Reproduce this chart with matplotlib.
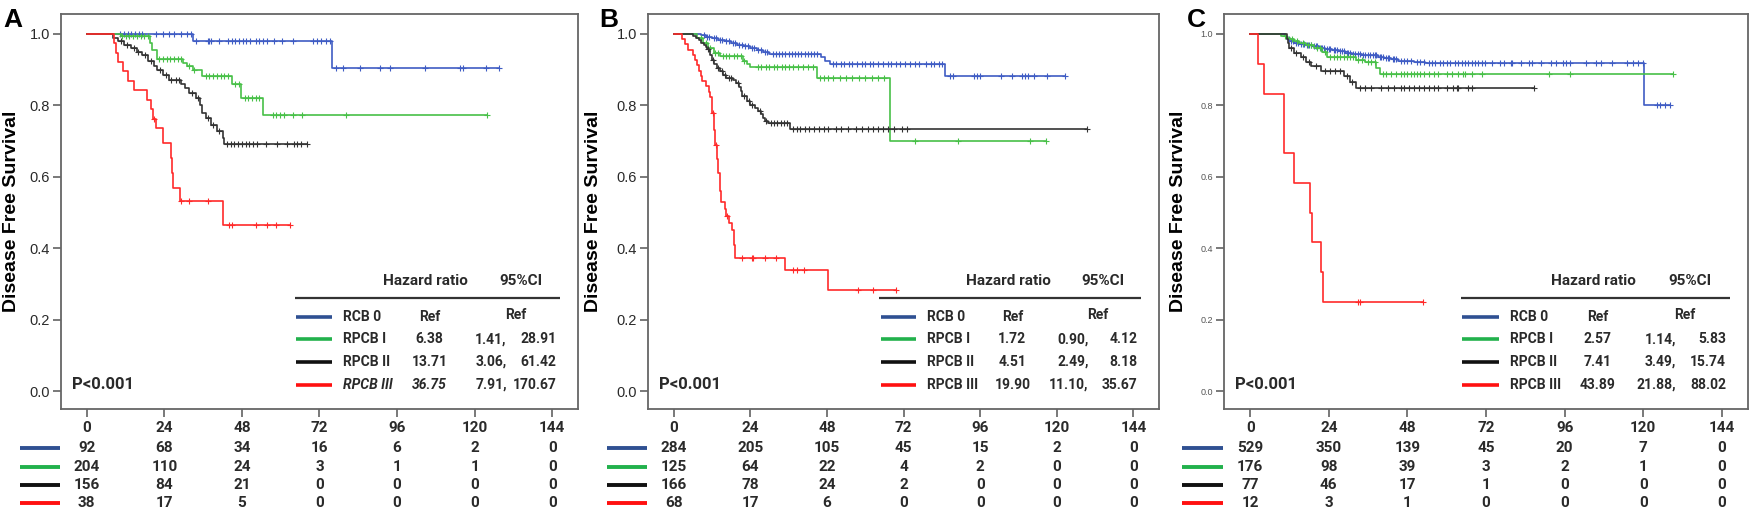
import numpy as np
import matplotlib
matplotlib.use("Agg")
import matplotlib.pyplot as plt

plt.rcParams['font.family'] = ['Roboto', 'DejaVu Sans']

# ---------------- data ----------------
groups = ['RCB 0', 'RPCB I', 'RPCB II', 'RPCB III']
xticks = [0, 24, 48, 72, 96, 120, 144]

# panel A : event times / survival after event / censor times
a_rcb0_t = [32.8, 75.9]
a_rcb0_s = [0.981, 0.906]
a_rcb0_c = [10.3, 11.5, 12.6, 13.8, 14.9, 16.1, 17.2, 21.3, 23.6, 25.3, 27.0, 29.3, 31.0, 32.2,
            33.9, 37.4, 37.9, 38.5, 40.8, 43.7, 44.8, 46.0, 47.1, 48.3, 49.4, 50.6, 52.3, 53.4,
            54.6, 55.7, 58.0, 60.3, 63.8, 70.1, 71.3, 72.4, 74.1, 75.3, 77.0, 79.3, 84.5, 90.8,
            93.7, 104.6, 115.5, 116.4, 123.6, 127.6]
a_r1_t = [10.5, 19.5, 20.3, 21.8, 29.7, 31.0, 32.8, 35.6, 44.8, 47.7, 54.6]
a_r1_s = [0.995, 0.975, 0.955, 0.931, 0.92, 0.91, 0.90, 0.883, 0.86, 0.822, 0.773]
a_r1_c = [10.9, 12.1, 13.2, 14.4, 15.5, 16.7, 17.8, 19.0, 22.4, 23.6, 24.7, 25.9, 27.0, 28.2,
          29.1, 31.6, 33.3, 36.8, 37.9, 39.1, 40.2, 41.4, 42.5, 43.7, 46.0, 47.1, 48.9, 50.0,
          51.1, 52.3, 53.4, 57.5, 58.6, 59.8, 60.9, 63.8, 66.7, 80.1, 123.9]
a_r2_t = [8.0, 9.8, 11.5, 13.8, 15.5, 17.2, 19.0, 20.7, 21.8, 23.6, 25.3, 29.3, 30.5, 31.6,
          33.9, 35.1, 35.6, 36.8, 38.5, 40.2, 42.0, 42.5]
a_r2_s = [0.99, 0.98, 0.97, 0.96, 0.95, 0.94, 0.925, 0.91, 0.90, 0.885, 0.87, 0.86, 0.85, 0.835,
          0.82, 0.80, 0.78, 0.765, 0.745, 0.728, 0.71, 0.693]
a_r2_c = [10.5, 12.5, 14.5, 16.0, 18.0, 20.0, 22.5, 24.5, 26.0, 27.5, 28.5, 32.5, 34.5, 37.5,
          39.0, 41.0, 43.5, 44.6, 45.7, 46.9, 48.0, 49.2, 50.3, 51.5, 52.6, 55.5, 58.9, 61.8,
          64.1, 65.2, 66.4, 68.2]
a_r3_t = [8.5, 9.0, 9.7, 11.2, 12.6, 14.6, 18.5, 20.0, 20.6, 21.5, 23.6, 26.2, 26.5, 26.7, 28.8, 42.0]
a_r3_s = [0.974, 0.947, 0.921, 0.895, 0.868, 0.842, 0.815, 0.789, 0.763, 0.737, 0.695, 0.653,
          0.611, 0.569, 0.531, 0.466]
a_r3_c = [20.8, 29.3, 31.6, 37.4, 43.9, 44.8, 52.3, 55.7, 58.6, 63.0]

# panel B
b_rcb0_t = [8.6, 10.0, 12.0, 14.0, 16.0, 18.0, 20.0, 22.0, 24.0, 26.0, 28.0, 30.0, 46.2, 47.5, 49.1, 85.0]
b_rcb0_s = [0.996, 0.992, 0.988, 0.984, 0.98, 0.975, 0.97, 0.965, 0.96, 0.955, 0.95, 0.944,
            0.935, 0.925, 0.916, 0.883]
b_rcb0_c = [9.5, 10.5, 11.2, 12.5, 13.3, 14.5, 15.2, 16.5, 17.3, 18.5, 19.3, 20.5, 21.3, 22.5,
            23.3, 24.5, 25.3, 26.5, 27.3, 28.5, 29.3, 31.0, 32.0, 33.0, 34.0, 35.0, 36.0, 37.0,
            38.0, 39.0, 40.0, 41.0, 42.0, 43.0, 44.0, 45.0, 50.0, 51.0, 52.5, 53.5, 55.0, 56.0,
            57.5, 59.0, 60.0, 61.5, 62.5, 64.0, 65.5, 67.0, 68.0, 69.5, 71.0, 72.5, 74.0, 75.5,
            77.0, 79.0, 80.5, 81.5, 83.0, 84.0, 86.5, 87.5, 94.0, 95.0, 96.0, 102.5, 106.0,
            109.0, 110.0, 111.0, 113.0, 117.0, 122.6]
b_r1_t = [7.4, 9.2, 10.9, 12.7, 14.5, 21.8, 23.0, 24.0, 45.0, 67.9]
b_r1_s = [0.99, 0.975, 0.96, 0.948, 0.939, 0.925, 0.915, 0.908, 0.876, 0.70]
b_r1_c = [8.5, 10.0, 11.5, 13.0, 14.0, 15.5, 16.5, 17.5, 19.0, 20.0, 21.0, 22.0, 26.5, 27.5,
          29.0, 30.0, 31.5, 32.5, 34.0, 35.0, 36.0, 37.5, 39.0, 40.5, 42.0, 43.5, 46.0, 47.0,
          48.5, 50.0, 52.0, 54.0, 56.0, 58.0, 60.0, 62.0, 64.0, 66.0, 75.5, 89.0, 111.5, 116.5]
b_r2_t = [6.2, 7.0, 7.8, 8.6, 9.4, 10.0, 10.6, 11.1, 11.5, 12.1, 12.7, 13.5, 14.5, 15.5, 16.5,
          18.5, 19.5, 20.5, 21.0, 21.5, 23.0, 24.0, 25.5, 26.5, 27.3, 28.0, 28.6, 29.5, 36.6]
b_r2_s = [0.994, 0.988, 0.982, 0.976, 0.97, 0.964, 0.958, 0.952, 0.94, 0.928, 0.916, 0.906,
          0.896, 0.886, 0.878, 0.871, 0.864, 0.852, 0.84, 0.827, 0.813, 0.801, 0.794, 0.785,
          0.775, 0.765, 0.757, 0.752, 0.733]
b_r2_c = [10.8, 12.4, 13.8, 15.2, 16.0, 17.5, 18.0, 20.2, 22.0, 23.5, 24.5, 27.0, 29.0, 30.5,
          31.5, 32.5, 33.5, 34.5, 35.5, 37.5, 38.5, 39.5, 41.0, 42.5, 44.0, 45.5, 47.0, 48.5,
          51.0, 52.5, 54.5, 57.0, 59.0, 61.0, 62.5, 64.0, 65.5, 67.0, 69.0, 71.5, 73.0, 129.6]
b_r3_t = [2.7, 3.5, 4.5, 6.0, 6.8, 7.2, 8.0, 8.5, 8.8, 10.3, 11.0, 11.5, 12.0, 12.5, 13.0, 13.5,
          14.0, 14.5, 15.0, 16.0, 16.5, 17.5, 18.3, 18.8, 19.3, 35.0, 48.2]
b_r3_s = [0.985, 0.971, 0.956, 0.941, 0.926, 0.912, 0.897, 0.882, 0.868, 0.853, 0.838, 0.824,
          0.78, 0.73, 0.69, 0.65, 0.61, 0.56, 0.53, 0.51, 0.49, 0.47, 0.45, 0.41, 0.373, 0.34, 0.282]
b_r3_c = [12.3, 13.2, 16.8, 21.5, 24.4, 25.0, 28.6, 32.1, 37.4, 38.5, 40.9, 57.9, 62.6, 69.7]

# panel C
c_rcb0_t = [10.5, 11.0, 11.5, 12.0, 13.5, 15.0, 17.0, 19.0, 21.0, 23.0, 25.0, 27.0, 29.0, 31.0,
            34.0, 37.0, 39.0, 41.0, 43.0, 45.0, 50.0, 53.5, 120.3]
c_rcb0_s = [0.995, 0.99, 0.985, 0.98, 0.976, 0.972, 0.968, 0.965, 0.962, 0.958, 0.955, 0.951,
            0.948, 0.945, 0.942, 0.94, 0.936, 0.932, 0.929, 0.925, 0.922, 0.919, 0.802]
c_rcb0_c = [11.8, 12.5, 13.0, 14.0, 14.5, 15.5, 16.0, 16.5, 17.5, 18.0, 18.5, 19.5, 20.0, 20.5,
            21.5, 22.0, 22.5, 23.5, 24.0, 24.5, 25.5, 26.0, 26.5, 27.5, 28.0, 28.5, 29.5, 30.0,
            30.5, 31.5, 32.0, 33.0, 33.5, 34.5, 35.0, 36.0, 36.5, 37.5, 38.0, 38.5, 39.5, 40.0,
            40.5, 41.5, 42.0, 42.5, 43.5, 44.0, 44.5, 46.0, 47.0, 48.0, 49.0, 51.0, 52.0, 53.0,
            54.5, 55.5, 56.5, 58.0, 59.0, 60.0, 61.0, 62.5, 63.6, 64.6, 65.6, 66.6, 67.7, 68.7,
            69.7, 70.8, 71.8, 73.8, 76.4, 77.4, 79.5, 80.0, 82.6, 85.1, 86.2, 88.7, 91.8, 93.4,
            95.4, 96.4, 97.5, 102.6, 105.7, 107.2, 110.6, 114.9, 117.0, 118.5, 120.0, 124.1,
            125.1, 126.7, 128.2]
c_r1_t = [9.4, 11.0, 12.2, 13.5, 15.0, 17.0, 19.6, 22.0, 23.6, 32.2, 35.0, 38.5, 39.6]
c_r1_s = [0.995, 0.99, 0.985, 0.98, 0.975, 0.97, 0.96, 0.95, 0.936, 0.927, 0.922, 0.905, 0.889]
c_r1_c = [10.5, 12.8, 14.2, 16.0, 17.8, 18.5, 20.5, 21.2, 23.0, 24.5, 25.5, 26.5, 27.5, 28.5,
          29.5, 30.5, 31.5, 33.0, 34.0, 36.0, 37.0, 38.0, 40.5, 41.5, 43.0, 44.5, 46.0, 47.0,
          48.0, 49.0, 50.0, 51.0, 52.0, 53.0, 54.5, 56.0, 57.5, 60.0, 61.5, 63.6, 65.1, 65.6,
          67.7, 70.8, 91.3, 97.5, 129.2]
c_r2_t = [11.4, 11.6, 11.8, 13.5, 15.5, 17.0, 18.5, 21.5, 28.8, 30.5, 32.2]
c_r2_s = [0.987, 0.974, 0.961, 0.948, 0.935, 0.922, 0.909, 0.896, 0.882, 0.866, 0.849]
c_r2_c = [12.5, 14.0, 16.0, 18.0, 20.0, 23.0, 24.5, 26.0, 27.5, 29.5, 31.0, 33.5, 35.0, 37.0,
          40.0, 42.0, 44.0, 46.0, 47.0, 48.5, 50.0, 51.5, 53.0, 54.5, 56.0, 57.5, 60.0, 62.0,
          63.0, 63.6, 66.6, 67.7, 86.7]
c_r3_t = [2.3, 4.2, 10.3, 10.4, 13.4, 18.3, 18.8, 21.7, 22.1]
c_r3_s = [0.917, 0.833, 0.75, 0.667, 0.583, 0.50, 0.417, 0.333, 0.25]
c_r3_c = [32.8, 33.4, 52.7]

# numbers at risk
a_risk = [[92, 68, 34, 16, 6, 2, 0], [204, 110, 24, 3, 1, 1, 0],
          [156, 84, 21, 0, 0, 0, 0], [38, 17, 5, 0, 0, 0, 0]]
b_risk = [[284, 205, 105, 45, 15, 2, 0], [125, 64, 22, 4, 2, 0, 0],
          [166, 78, 24, 2, 0, 0, 0], [68, 17, 6, 0, 0, 0, 0]]
c_risk = [[529, 350, 139, 45, 20, 7, 0], [176, 98, 39, 3, 2, 1, 0],
          [77, 46, 17, 1, 0, 0, 0], [12, 3, 1, 0, 0, 0, 0]]

# hazard ratios and 95% CI
a_hr = ['Ref', '6.38', '13.71', '36.75']
a_lo = ['', '1.41,', '3.06,', '7.91,']
a_hi = ['', '28.91', '61.42', '170.67']
b_hr = ['Ref', '1.72', '4.51', '19.90']
b_lo = ['', '0.90,', '2.49,', '11.10,']
b_hi = ['', '4.12', '8.18', '35.67']
c_hr = ['Ref', '2.57', '7.41', '43.89']
c_lo = ['', '1.14,', '3.49,', '21.88,']
c_hi = ['', '5.83', '15.74', '88.02']

curve_cols = ['#3f5cc4', '#48c048', '#333333', '#ff2a2a']
key_cols = ['#2f5092', '#22b14c', '#111111', '#ff1010']
txt = '#2a2a2a'

panels = [
    dict(letter='A', pos=[0.0348, 0.1965, 0.2953, 0.776], lx=0.002, yl=0.0068,
         curves=[(a_rcb0_t, a_rcb0_s, a_rcb0_c), (a_r1_t, a_r1_s, a_r1_c),
                 (a_r2_t, a_r2_s, a_r2_c), (a_r3_t, a_r3_s, a_r3_c)],
         risk=a_risk, hr=a_hr, lo=a_lo, hi=a_hi, italic_last=True, small_y=False),
    dict(letter='B', pos=[0.3701, 0.1965, 0.2918, 0.776], lx=0.342, yl=0.3392,
         curves=[(b_rcb0_t, b_rcb0_s, b_rcb0_c), (b_r1_t, b_r1_s, b_r1_c),
                 (b_r2_t, b_r2_s, b_r2_c), (b_r3_t, b_r3_s, b_r3_c)],
         risk=b_risk, hr=b_hr, lo=b_lo, hi=b_hi, italic_last=False, small_y=False),
    dict(letter='C', pos=[0.6990, 0.1965, 0.2993, 0.776], lx=0.678, yl=0.6728,
         curves=[(c_rcb0_t, c_rcb0_s, c_rcb0_c), (c_r1_t, c_r1_s, c_r1_c),
                 (c_r2_t, c_r2_s, c_r2_c), (c_r3_t, c_r3_s, c_r3_c)],
         risk=c_risk, hr=c_hr, lo=c_lo, hi=c_hi, italic_last=False, small_y=True),
]

fig = plt.figure(figsize=(17.51, 5.09), dpi=100)

for p in panels:
    ax = fig.add_axes(p['pos'])
    for (t, s, c), col in zip(p['curves'], curve_cols):
        ts = np.r_[0.0, t]
        ss = np.r_[1.0, s]
        end = max(max(c), ts[-1])
        ax.step(np.r_[ts, end], np.r_[ss, ss[-1]], where='post', color=col, lw=1.2)
        cc = np.array(c)
        idx = np.searchsorted(ts, cc, side='right') - 1
        ax.plot(cc, ss[idx], ls='none', marker='+', ms=5, mew=0.8, color=col)

    ax.set_xlim(-8, 152)
    ax.set_ylim(-0.05, 1.056)
    ax.set_xticks(xticks)
    ax.set_xticklabels([str(v) for v in xticks], fontsize=11, fontweight='bold', color=txt)
    ax.set_yticks([0, 0.2, 0.4, 0.6, 0.8, 1.0])
    if p['small_y']:
        ax.set_yticklabels(['0.0', '0.2', '0.4', '0.6', '0.8', '1.0'], fontsize=6.5,
                           color='#555555', family='Liberation Sans')
    else:
        ax.set_yticklabels(['0.0', '0.2', '0.4', '0.6', '0.8', '1.0'], fontsize=10.5,
                           family='Liberation Sans', color=txt)
    ax.tick_params(axis='both', direction='out', length=6, width=1.1, color='#555555', pad=2)
    ax.tick_params(axis='x', pad=3)
    for sp in ax.spines.values():
        sp.set_color('#666666')
        sp.set_linewidth(1.3)

    # hazard ratio table
    tr = ax.transAxes
    ax.text(0.705, 0.324, 'Hazard ratio', transform=tr, ha='center', va='center',
            fontsize=11, fontweight='bold', color=txt)
    ax.text(0.89, 0.324, '95%CI', transform=tr, ha='center', va='center',
            fontsize=11, fontweight='bold', color=txt)
    ax.plot([0.452, 0.965], [0.281, 0.281], transform=tr, color='#333333', lw=1.6,
            solid_capstyle='butt')
    rows_y = [0.233, 0.177, 0.119, 0.061]
    for i, (g, y) in enumerate(zip(groups, rows_y)):
        style = 'italic' if (p['italic_last'] and i == 3) else 'normal'
        ax.plot([0.455, 0.525], [y, y], transform=tr, color=key_cols[i], lw=2.6,
                solid_capstyle='butt')
        ax.text(0.545, y, g, transform=tr, ha='left', va='center', fontsize=10,
                fontweight='bold', color=txt, style=style)
        ax.text(0.713, y, p['hr'][i], transform=tr, ha='center', va='center', fontsize=10,
                fontweight='bold', color=txt, style=style)
        if i == 0:
            ax.text(0.88, y + 0.004, 'Ref', transform=tr, ha='center', va='center',
                    fontsize=10, fontweight='bold', color=txt)
        else:
            ax.text(0.862, y, p['lo'][i], transform=tr, ha='right', va='center',
                    fontsize=10, fontweight='bold', color=txt)
            ax.text(0.958, y, p['hi'][i], transform=tr, ha='right', va='center',
                    fontsize=10, fontweight='bold', color=txt)
    ax.text(0.021, 0.061, 'P<0.001', transform=tr, ha='left', va='center', fontsize=12,
            fontweight='bold', color=txt)

    # numbers at risk below the axis
    xt = ax.get_xaxis_transform()
    risk_y = [-0.099, -0.146, -0.192, -0.238]
    for i, (row, y) in enumerate(zip(p['risk'], risk_y)):
        ax.plot([-0.08, -0.002], [y, y], transform=tr, color=key_cols[i], lw=2.8,
                solid_capstyle='butt', clip_on=False)
        for xv, n in zip(xticks, row):
            ax.text(xv, y, str(n), transform=xt, ha='center', va='center', fontsize=11,
                    fontweight='bold', color=txt, clip_on=False)

    fig.text(p['lx'], 0.985, p['letter'], ha='left', va='top', fontsize=19,
             fontweight='bold', family='Liberation Sans')
    fig.text(p['yl'], 0.584, 'Disease Free Survival', rotation=90, ha='center', va='center',
             fontsize=14, fontweight='bold', family='Liberation Sans')

fig.savefig('out.png', dpi=100)
